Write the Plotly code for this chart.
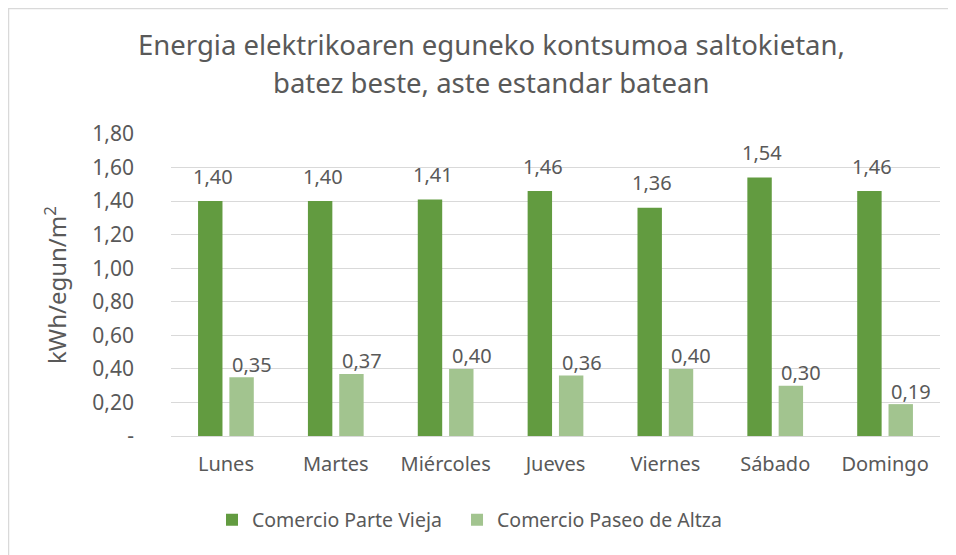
import plotly.graph_objects as go

days = ["Lunes", "Martes", "Miércoles", "Jueves", "Viernes", "Sábado", "Domingo"]
parte_vieja = [1.40, 1.40, 1.41, 1.46, 1.36, 1.54, 1.46]
paseo_altza = [0.35, 0.37, 0.40, 0.36, 0.40, 0.30, 0.19]
y_ticks = [0, 0.2, 0.4, 0.6, 0.8, 1.0, 1.2, 1.4, 1.6, 1.8]
y_tick_text = ["-", "0,20", "0,40", "0,60", "0,80", "1,00", "1,20", "1,40", "1,60", "1,80"]

DARK = "#629B40"
LIGHT = "#A2C48F"
TXT = "#595959"
FONT = "Noto Sans"

OFF = 8  # page body margin
W, H = 956 - OFF, 555 - OFF
# plot area in page pixels: x 171..940, y 134..436
L = 171 - OFF
T = 134 - OFF
R = W - (940 - OFF)
B = H - (436 - OFF)
pw, ph = W - L - R, H - T - B


def px_x(p):  # page x -> paper x
    return (p - OFF - L) / pw


def px_y(p):  # page y -> paper y
    return (T + ph - (p - OFF)) / ph


def fmt(v):
    return f"{v:.2f}".replace(".", ",")


fig = go.Figure()
fig.add_trace(go.Bar(name="Comercio Parte Vieja\u00a0\u00a0", x=days, y=parte_vieja,
                     marker=dict(color=DARK, line=dict(width=0))))
fig.add_trace(go.Bar(name="Comercio Paseo de Altza", x=days, y=paseo_altza,
                     marker=dict(color=LIGHT, line=dict(width=0))))

for d, v in zip(days, parte_vieja):
    fig.add_annotation(x=d, y=v, text=fmt(v), showarrow=False, xshift=-13,
                       yshift=25, yanchor="middle",
                       font=dict(family=FONT, size=20, color=TXT))
for d, v in zip(days, paseo_altza):
    fig.add_annotation(x=d, y=v, text=fmt(v), showarrow=False, xshift=26,
                       yshift=13, yanchor="middle",
                       font=dict(family=FONT, size=20, color=TXT))

# title (two lines)
title_lines = ["Energia elektrikoaren eguneko kontsumoa saltokietan,",
               "batez beste, aste estandar batean"]
for line, yp in zip(title_lines, [45, 83]):
    fig.add_annotation(xref="paper", yref="paper", x=px_x(491), y=px_y(yp),
                       text=line, showarrow=False, xanchor="center",
                       yanchor="middle",
                       font=dict(family=FONT, size=27.5, color=TXT))

# y axis title
fig.add_annotation(xref="paper", yref="paper", x=px_x(55), y=px_y(285),
                   text="kWh/egun/m<sup>2</sup>", textangle=-90, showarrow=False,
                   xanchor="center", yanchor="middle",
                   font=dict(family=FONT, size=24, color=TXT))

# chart border (left and top edges visible)
fig.add_shape(type="rect", xref="paper", yref="paper",
              x0=px_x(8.5), x1=px_x(1000), y0=px_y(600), y1=px_y(8.5),
              line=dict(color="#D9D9D9", width=1.5), fillcolor="rgba(0,0,0,0)")

fig.update_layout(
    width=W, height=H,
    margin=dict(l=L, r=R, t=T, b=B, autoexpand=False),
    paper_bgcolor="white", plot_bgcolor="white",
    barmode="group", bargap=0.43, bargroupgap=0.22,
    font=dict(family=FONT, color=TXT),
    showlegend=True,
    legend=dict(orientation="h", xref="container", yref="container",
                x=(212 - OFF) / W, xanchor="left",
                y=1 - (520 - OFF) / H, yanchor="middle",
                font=dict(family=FONT, size=19.5, color=TXT),
                itemwidth=30, traceorder="normal"),
    xaxis=dict(showgrid=False, showline=False, zeroline=False,
               tickfont=dict(family=FONT, size=20, color=TXT),
               ticklabelstandoff=14),
    yaxis=dict(range=[0, 1.8], tickvals=y_ticks, ticktext=y_tick_text,
               showgrid=True, gridcolor="#D9D9D9", gridwidth=1,
               zeroline=True, zerolinecolor="#D9D9D9", zerolinewidth=1,
               showline=False,
               tickfont=dict(family=FONT, size=21, color=TXT),
               ticklabelstandoff=36),
)

fig.write_html("out.html")
